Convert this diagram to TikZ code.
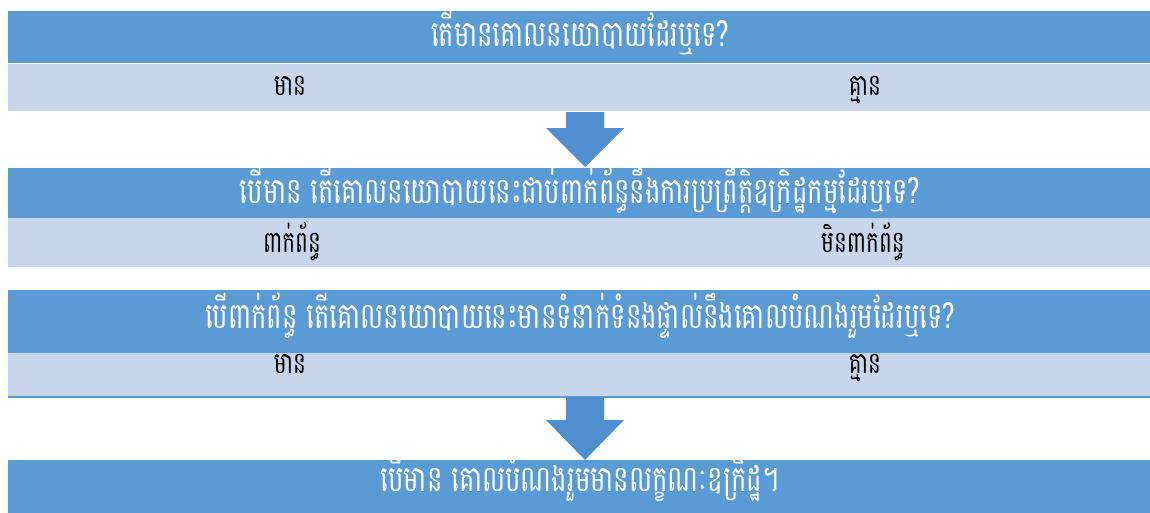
\documentclass[tikz,border=0pt]{standalone}
\usepackage{fontspec}
\newfontfamily\khmer[Script=Khmer,FakeStretch=0.72]{Battambang}
\definecolor{darkbar}{HTML}{5B9BD5}
\definecolor{lightbar}{HTML}{C7D6EB}
\definecolor{arrowblue}{HTML}{4F8FD0}
\begin{document}
\begin{tikzpicture}[x=1pt,y=-1pt,
  qbar/.style={fill=darkbar,draw=none,inner sep=0pt,minimum width=1144pt},
  qtext/.style={inner sep=0pt,anchor=base,text=white,font=\khmer\fontsize{36}{40}\selectfont},
  abar/.style={fill=lightbar,draw=none,inner sep=0pt,minimum width=1144pt},
  ans/.style={inner sep=0pt,anchor=base,text=black,font=\khmer\fontsize{30}{34}\selectfont},
  downarrow/.style={fill=arrowblue,draw=none}]
\useasboundingbox (0,0) rectangle (1150,512);
\fill[white] (0,0) rectangle (1150,512);
% row 1
\node[qbar,minimum height=52pt] (q1) at (580,37) {};
\node[qtext] (q1t) at (580,46) {តើមានគោលនយោបាយដែរឬទេ?};
\node[abar,minimum height=47pt] (a1) at (580,87) {};
\node[ans] (a1y) at (290,95) {មាន};
\node[ans] (a1n) at (865,95) {គ្មាន};
% arrow 1
\fill[downarrow] (566,112) -- (604,112) -- (604,128) -- (624,128) -- (585,167) -- (546,128) -- (566,128) -- cycle;
% row 2
\node[qbar,minimum height=50pt] (q2) at (580,193) {};
\node[qtext] (q2t) at (580,203) {បើមាន តើគោលនយោបាយនេះជាប់ពាក់ព័ន្ធនឹងការប្រព្រឹត្តិឧក្រិដ្ឋកម្មដែរឬទេ?};
\node[abar,minimum height=49pt] (a2) at (580,242.5) {};
\node[ans] (a2y) at (292,252) {ពាក់ព័ន្ធ};
\node[ans] (a2n) at (863,252) {មិនពាក់ព័ន្ធ};
% row 3
\node[qbar,minimum height=63pt] (q3) at (580,321.5) {};
\node[qtext] (q3t) at (580,328) {បើពាក់ព័ន្ធ តើគោលនយោបាយនេះមានទំនាក់ទំនងផ្ទាល់នឹងគោលបំណងរួមដែរឬទេ?};
\node[abar,minimum height=44pt] (a3) at (580,375) {};
\draw[darkbar,line width=2pt] (a3.south west) -- (a3.south east);
\node[ans] (a3y) at (290,373) {មាន};
\node[ans] (a3n) at (865,373) {គ្មាន};
% arrow 2
\fill[downarrow] (566,397) -- (604,397) -- (604,420) -- (624,420) -- (585,460) -- (546,420) -- (566,420) -- cycle;
% row 4
\node[qbar,minimum height=56pt] (q4) at (580,488) {};
\node[qtext] (q4t) at (580,491) {បើមាន គោលបំណងរួមមានលក្ខណៈឧក្រិដ្ឋ។};
\end{tikzpicture}
\end{document}
